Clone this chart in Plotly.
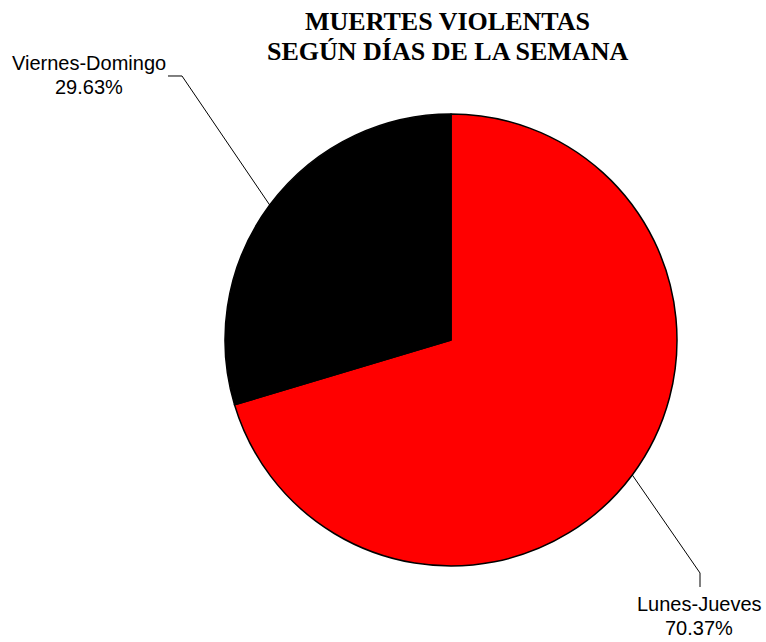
import math
import plotly.graph_objects as go

# ---- data ----
labels = ["Lunes-Jueves", "Viernes-Domingo"]
values = [70.37, 29.63]
colors = ["#FF0000", "#000000"]
title_lines = ["MUERTES VIOLENTAS", "SEGÚN DÍAS DE LA SEMANA"]

W, H = 766, 642
cx, cy, r = 451, 340, 226  # pie geometry in pixels

fig = go.Figure(go.Pie(
    labels=labels,
    values=values,
    marker=dict(colors=colors, line=dict(color="#000000", width=1.5)),
    sort=False,
    direction="clockwise",
    rotation=0,
    textinfo="none",
    hoverinfo="label+percent",
    showlegend=False,
    domain=dict(x=[(cx - r) / W, (cx + r) / W], y=[1 - (cy + r) / H, 1 - (cy - r) / H]),
))

# leader line endpoints computed from slice mid-angles
total = sum(values)
cum = 0
edge_pts = []
for v in values:
    th = 2 * math.pi * (cum + v / 2) / total
    edge_pts.append((cx + r * math.sin(th), cy - r * math.cos(th)))
    cum += v

def P(px, py):
    return f"{px / W:.5f},{1 - py / H:.5f}"

# label layout (pixels): elbow, end, text center, baseline of first line
label_layout = [
    dict(elbow=(700, 573), end=(700, 587), tx=699, base=612),
    dict(elbow=(182, 76), end=(168, 76), tx=89, base=71),
]
label_font = dict(family="Liberation Sans, Arial, sans-serif", size=20, color="#000000")
line_gap = 24

shapes = []
annotations = []
for i, (lab, v) in enumerate(zip(labels, values)):
    lay = label_layout[i]
    ex, ey = edge_pts[i]
    path = "M " + P(ex, ey) + " L " + P(*lay["elbow"]) + " L " + P(*lay["end"])
    shapes.append(dict(type="path", xref="paper", yref="paper", path=path,
                       line=dict(color="#000000", width=1)))
    for j, t in enumerate([lab, f"{v:.2f}%"]):
        b = lay["base"] + j * line_gap
        annotations.append(dict(
            x=lay["tx"] / W, y=1 - (b + 4) / H, xref="paper", yref="paper",
            xanchor="center", yanchor="bottom", showarrow=False, text=t,
            font=label_font, borderpad=0,
        ))

title_font = dict(family="Liberation Serif, Times New Roman, serif", size=26, color="#000000")
for j, t in enumerate(title_lines):
    b = 32 + j * 30
    annotations.append(dict(
        x=447 / W, y=1 - (b + 5) / H, xref="paper", yref="paper",
        xanchor="center", yanchor="bottom", showarrow=False,
        text="<b>" + t + "</b>", font=title_font, borderpad=0,
    ))

fig.update_layout(
    width=W, height=H,
    margin=dict(l=0, r=0, t=0, b=0),
    paper_bgcolor="#FFFFFF",
    plot_bgcolor="#FFFFFF",
    shapes=shapes,
    annotations=annotations,
)

fig.write_html(
    "out.html",
    config={"displayModeBar": False},
    post_script="document.body.style.margin='0';document.body.style.overflow='hidden';",
)
